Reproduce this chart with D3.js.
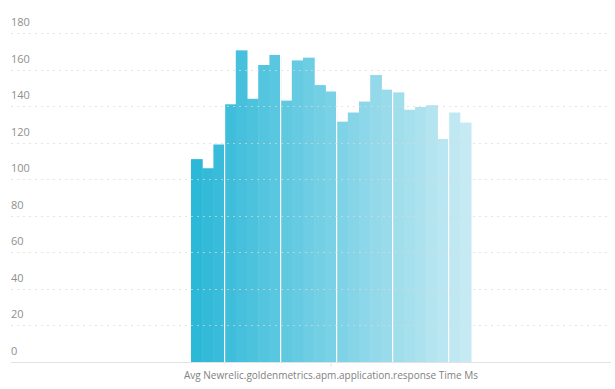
<!DOCTYPE html>
<html>
<head>
<meta charset="utf-8">
<script src="https://cdn.jsdelivr.net/npm/d3@7"></script>
<style>
  body { margin: 0; background: #fff; }
  svg text { font-family: "Open Sans", sans-serif; }
</style>
</head>
<body>
<div id="chart"></div>
<script>
// one category, 25 bars
var category = ["Avg Newrelic.goldenmetrics.apm.application.response Time Ms"];
var values = [111, 106, 119, 141, 170.5, 144, 162.5, 168, 143, 165, 166.5, 151.5, 148,
              131.5, 136.5, 142.5, 157, 149, 147.5, 138, 139.5, 140.5, 122, 136.5, 131];
var groupSizes = [3, 5, 5, 5, 5, 2];
var yTicks = [0, 20, 40, 60, 80, 100, 120, 140, 160, 180];

var width = 615, height = 389,
    margins = { top: 33, right: 4, bottom: 27, left: 11 },
    plotLeft = 51;

var svg = d3.select("#chart").append("svg")
    .attr("width", width)
    .attr("height", height);

var yScale = d3.scaleLinear()
    .domain([0, 180])
    .range([height - margins.bottom, margins.top]);

var xScale = d3.scaleBand()
    .domain(category)
    .range([plotLeft, width - margins.right])
    .paddingInner(0)
    .paddingOuter(0.5);

var barScale = d3.scaleBand()
    .domain(d3.range(values.length))
    .range([0, xScale.bandwidth()]);

var color = d3.scaleLinear()
    .domain([0, values.length - 1])
    .range(["#2cb8d7", "#c6eaf3"])
    .interpolate(d3.interpolateRgb);

// bars
var bars = svg.append("g")
    .attr("transform", "translate(" + xScale(category[0]) + ",0)");

bars.selectAll("rect")
    .data(values)
    .enter()
    .append("rect")
    .attr("x", function (d, i) { return barScale(i); })
    .attr("width", barScale.bandwidth() + 0.5)
    .attr("y", function (d) { return yScale(d); })
    .attr("height", function (d) { return yScale(0) - yScale(d); })
    .style("fill", function (d, i) { return color(i); });

// white separators between groups
var bounds = [], acc = 0;
for (var g = 0; g < groupSizes.length - 1; g++) {
    acc += groupSizes[g];
    bounds.push(acc);
}
bars.selectAll("line.sep")
    .data(bounds)
    .enter()
    .append("line")
    .attr("class", "sep")
    .attr("x1", function (d) { return barScale(d); })
    .attr("x2", function (d) { return barScale(d); })
    .attr("y1", yScale(200))
    .attr("y2", yScale(0))
    .style("stroke", "#fff")
    .style("stroke-width", 1.2);

// grid lines + y labels
var grid = svg.append("g");
grid.selectAll("line")
    .data(yTicks.filter(function (d) { return d > 0; }))
    .enter()
    .append("line")
    .attr("x1", margins.left)
    .attr("x2", 608)
    .attr("y1", function (d) { return Math.round(yScale(d)) + 0.5; })
    .attr("y2", function (d) { return Math.round(yScale(d)) + 0.5; })
    .style("stroke", "#d8d8d8")
    .style("stroke-opacity", 0.7)
    .style("stroke-dasharray", "2,4");

grid.selectAll("text")
    .data(yTicks)
    .enter()
    .append("text")
    .attr("x", margins.left)
    .attr("y", function (d) { return yScale(d) - 7; })
    .style("font-size", "11px")
    .style("fill", "#8f8f8f")
    .text(function (d) { return d; });

// x axis
var xAxis = d3.axisBottom(xScale).tickSize(4).tickPadding(5);
var xGuide = svg.append("g")
    .attr("transform", "translate(0," + (Math.round(yScale(0)) + 0.5) + ")")
    .call(xAxis);
xGuide.select(".domain").attr("d", "M" + margins.left + ",0H" + (width - margins.right)).style("stroke", "#e2e2e2");
xGuide.selectAll(".tick line").style("stroke", "#e2e2e2");
xGuide.selectAll(".tick text")
    .style("font-family", "'Open Sans', sans-serif")
    .style("font-size", "10px")
    .style("fill", "#7f7f7f");
</script>
</body>
</html>
